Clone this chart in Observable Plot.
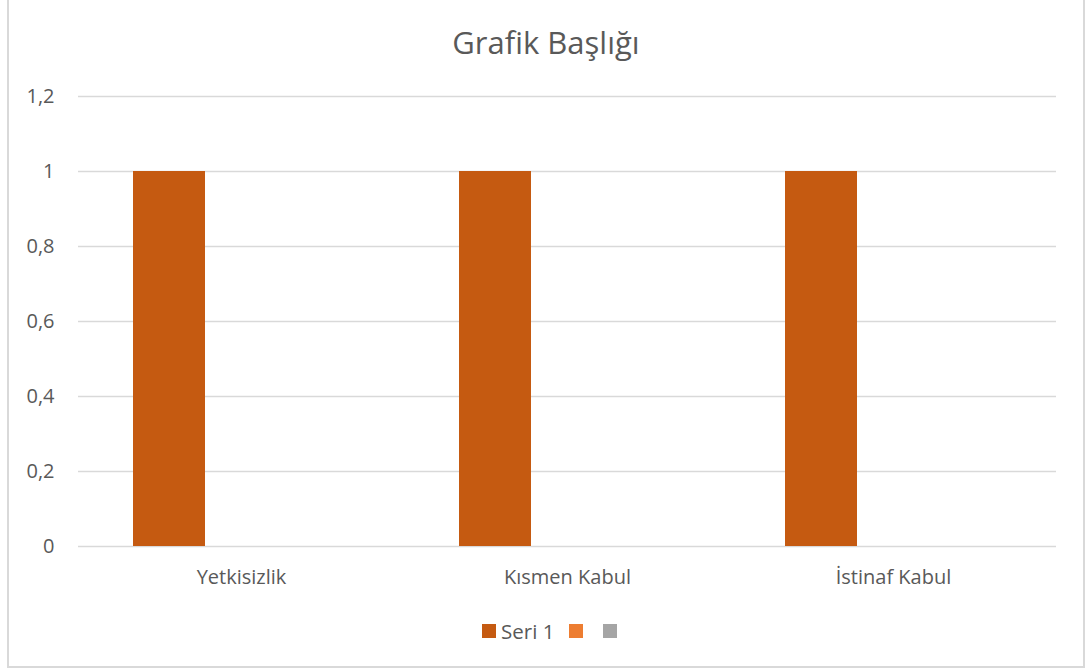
<!DOCTYPE html>
<html>
<head>
<meta charset="utf-8">
<script src="https://cdn.jsdelivr.net/npm/d3@7"></script>
<script src="https://cdn.jsdelivr.net/npm/@observablehq/plot@0.6"></script>
<style>
  html, body { margin: 0; padding: 0; background: #fff; }
  body { width: 1086px; height: 670px; position: relative; overflow: hidden; font-family: "Open Sans", "Noto Sans", sans-serif; color: #595959; }
  #frame { position: absolute; left: 7px; top: -2px; width: 1078px; height: 670px; border: 2px solid #D9D9D9; box-sizing: border-box; }
  #title { position: absolute; left: 0; width: 1092px; top: 22px; text-align: center; font-size: 31px; line-height: 40px; color: #595959; }
  #chart { position: absolute; left: 0; top: 70px; }
  #chart svg text { font-size: 20px !important; fill: #595959; font-family: "Open Sans", "Noto Sans", sans-serif; }
  #legend { position: absolute; top: 619px; left: 482px; display: flex; align-items: center; font-size: 20.5px; line-height: 24px; color: #595959; }
  .item { display: flex; align-items: center; margin-right: 15px; }
  .sw { width: 14px; height: 14px; display: inline-block; margin-right: 5px; }
</style>
</head>
<body>
<div id="frame"></div>
<div id="title">Grafik Başlığı</div>
<div id="chart"></div>
<div id="legend"></div>
<script>
const categories = ["Yetkisizlik", "Kısmen Kabul", "İstinaf Kabul"];
const seriesKeys = ["s1", "s2", "s3"];
const seriesNames = ["Seri 1", "", ""];
const seriesColors = ["#C55A11", "#ED7D31", "#A5A5A5"];
const seri1 = [1, 1, 1];
const seri2 = [0, 0, 0];
const seri3 = [0, 0, 0];
const yTicks = [0, 0.2, 0.4, 0.6, 0.8, 1, 1.2];

const allSeries = [seri1, seri2, seri3];
const data = [];
categories.forEach((c, i) => {
  seriesKeys.forEach((k, j) => data.push({category: c, series: k, value: allSeries[j][i]}));
});

const plot = Plot.plot({
  width: 1086,
  height: 530,
  marginLeft: 77,
  marginRight: 29,
  marginTop: 26,
  marginBottom: 54,
  style: {fontFamily: "'Open Sans', 'Noto Sans', sans-serif", fontSize: "20px", color: "#595959", background: "transparent"},
  fx: {domain: categories, paddingInner: 0, paddingOuter: 0, label: null, axis: "bottom", tickSize: 0, tickPadding: 23},
  x: {domain: seriesKeys, paddingInner: 0, paddingOuter: 0.75, axis: null},
  y: {domain: [0, 1.2], ticks: yTicks, tickSize: 0, tickPadding: 24, label: null, tickFormat: d => String(d).replace(".", ",")},
  color: {domain: seriesKeys, range: seriesColors},
  marks: [
    Plot.ruleY(yTicks, {stroke: "#D9D9D9", strokeWidth: 1.3}),
    Plot.barY(data, {fx: "category", x: "series", y: "value", fill: "series", inset: 0})
  ]
});
document.getElementById("chart").appendChild(plot);

const legend = document.getElementById("legend");
seriesKeys.forEach((k, j) => {
  const item = document.createElement("div");
  item.className = "item";
  const sw = document.createElement("span");
  sw.className = "sw";
  sw.style.background = seriesColors[j];
  item.appendChild(sw);
  const t = document.createElement("span");
  t.textContent = seriesNames[j];
  item.appendChild(t);
  legend.appendChild(item);
});
</script>
</body>
</html>
